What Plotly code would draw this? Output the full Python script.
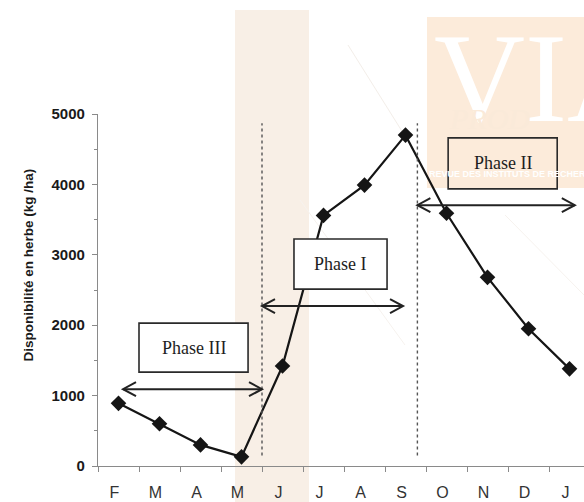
import plotly.graph_objects as go

months = ["F", "M", "A", "M", "J", "J", "A", "S", "O", "N", "D", "J"]
herbe = [890, 600, 300, 130, 1420, 3560, 3990, 4700, 3590, 2680, 1950, 1380]

phases = ["Phase III", "Phase I", "Phase II"]
phase_box_x = [(0.5, 3.16), (4.28, 6.55), (8.04, 10.7)]
phase_box_y = [(1333, 2030), (2513, 3225), (3936, 4661)]
phase_arrow_x = [(0.11, 3.5), (3.5, 6.94), (7.29, 11.13)]
phase_arrow_y = [1091, 2272, 3705]
phase_fill = ["white", "white", "rgba(0,0,0,0)"]
dotted_x = [3.5, 7.29]

# plot area in pixels: left 98, right 584, top 114, bottom 466
L, R, T, B = 98, 584, 114, 466
def px(x):
    return (x - L) / (R - L)
def py(y):
    return (B - y) / (B - T)

x = list(range(len(months)))
fig = go.Figure()
fig.add_trace(go.Scatter(
    x=x, y=herbe, mode="lines+markers",
    line=dict(color="#151515", width=2.2),
    marker=dict(symbol="diamond", size=12, color="#151515"),
    cliponaxis=False, showlegend=False, hoverinfo="skip"))

shapes = []
# watermark band and block
shapes.append(dict(type="rect", xref="paper", yref="paper", x0=px(235), x1=px(309),
                   y0=py(502), y1=py(10), fillcolor="#f8efe6", line_width=0, layer="below"))
shapes.append(dict(type="rect", xref="paper", yref="paper", x0=px(427), x1=px(600),
                   y0=py(188), y1=py(17), fillcolor="#fcebda", line_width=0, layer="below"))
shapes.append(dict(type="line", xref="paper", yref="paper", x0=px(348), y0=py(45),
                   x1=px(420), y1=py(160), line=dict(color="#f3eee9", width=1), layer="below"))
shapes.append(dict(type="line", xref="paper", yref="paper", x0=px(300), y0=py(200),
                   x1=px(405), y1=py(345), line=dict(color="#f6f2ee", width=1), layer="below"))
shapes.append(dict(type="line", xref="paper", yref="paper", x0=px(505), y0=py(215),
                   x1=px(584), y1=py(295), line=dict(color="#f6f2ee", width=1), layer="below"))

for dx in dotted_x:
    shapes.append(dict(type="line", x0=dx, x1=dx, y0=150, y1=4870,
                       line=dict(color="#555555", width=1.4, dash="dot")))

for (bx0, bx1), (by0, by1), fill in zip(phase_box_x, phase_box_y, phase_fill):
    shapes.append(dict(type="rect", x0=bx0, x1=bx1, y0=by0, y1=by1,
                       fillcolor=fill, line=dict(color="#2a2a2a", width=1.6), layer="above"))

for (ax0, ax1), ay in zip(phase_arrow_x, phase_arrow_y):
    shapes.append(dict(type="line", x0=ax0, x1=ax1, y0=ay, y1=ay,
                       line=dict(color="#222222", width=2), layer="above"))
    shapes.append(dict(type="path", xsizemode="pixel", ysizemode="pixel",
                       xanchor=ax0, yanchor=ay, path="M 13,7 L 0,0 L 13,-7",
                       line=dict(color="#222222", width=2), layer="above"))
    shapes.append(dict(type="path", xsizemode="pixel", ysizemode="pixel",
                       xanchor=ax1, yanchor=ay, path="M -13,7 L 0,0 L -13,-7",
                       line=dict(color="#222222", width=2), layer="above"))

annotations = []
annotations.append(dict(xref="paper", yref="paper", x=px(432), y=py(78), text="VIA",
                        showarrow=False, xanchor="left", yanchor="middle",
                        font=dict(family="Liberation Serif", size=126, color="white")))
annotations.append(dict(xref="paper", yref="paper", x=px(447), y=py(119), text="<i>PROD</i>",
                        showarrow=False, xanchor="left", yanchor="middle",
                        font=dict(family="Liberation Serif", size=30, color="#faead9")))
annotations.append(dict(xref="paper", yref="paper", x=px(427), y=py(174),
                        text="<b>REVUE DES INSTITUTS DE RECHERCHE</b>",
                        showarrow=False, xanchor="left", yanchor="middle",
                        font=dict(family="Liberation Sans", size=9, color="white")))

for name, (bx0, bx1), (by0, by1) in zip(phases, phase_box_x, phase_box_y):
    annotations.append(dict(x=(bx0 + bx1) / 2, y=(by0 + by1) / 2, text=name, showarrow=False,
                            font=dict(family="Liberation Serif", size=18, color="#1e1e1e")))

annotations.append(dict(xref="paper", yref="paper", x=px(18), y=py(265), textangle=-90,
                        text="<b>Disponibilité en herbe (kg /ha)</b>", showarrow=False,
                        font=dict(family="Liberation Sans", size=13.5, color="#1a1a1a")))

fig.update_layout(
    width=584, height=502,
    margin=dict(l=L, r=0, t=T, b=502 - B),
    paper_bgcolor="white", plot_bgcolor="rgba(0,0,0,0)",
    shapes=shapes, annotations=annotations,
    xaxis=dict(range=[-0.5, -0.5 + (R - L) / 41.0], showgrid=False, zeroline=False,
               tickvals=x, ticktext=months, ticks="", showline=True,
               linecolor="#8a8a8a", linewidth=1.2,
               tickfont=dict(family="Liberation Sans", size=16, color="#333333"),
               ticklabelstandoff=12, ticklabelshift=-4,
               minor=dict(tickvals=[i - 0.5 for i in range(13)], ticks="outside",
                          ticklen=5, tickcolor="#8a8a8a", tickwidth=1.2)),
    yaxis=dict(range=[0, 5000], showgrid=False, zeroline=False,
               tickvals=[0, 1000, 2000, 3000, 4000, 5000], ticks="outside", ticklen=5,
               tickcolor="#8a8a8a", showline=True, linecolor="#8a8a8a", linewidth=1.2,
               tickfont=dict(family="Liberation Sans", size=15, color="#1a1a1a", weight="bold"),
               ticklabelstandoff=4,
               minor=dict(dtick=500, ticks="outside", ticklen=3, tickcolor="#8a8a8a")),
)

fig.write_html("out.html", config={"displayModeBar": False},
               post_script="document.body.style.margin='0px';document.body.style.overflow='hidden';")
